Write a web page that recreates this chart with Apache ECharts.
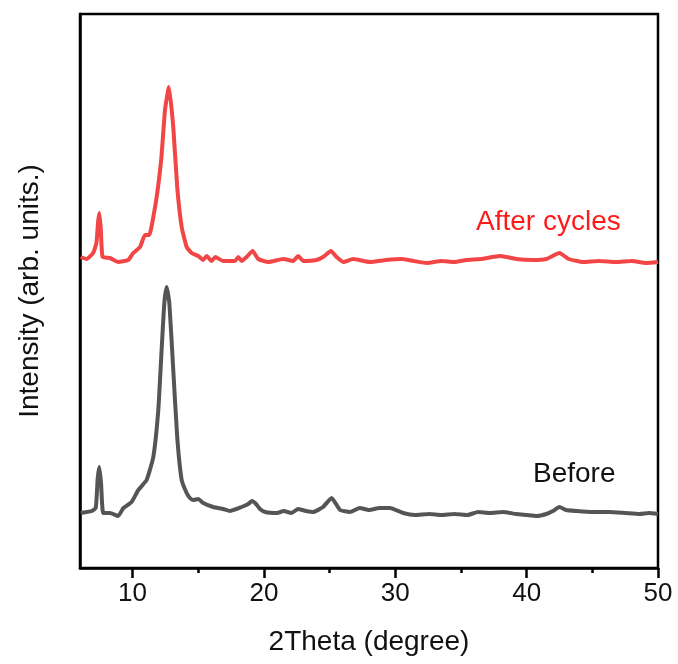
<!DOCTYPE html>
<html>
<head>
<meta charset="utf-8">
<script src="https://cdn.jsdelivr.net/npm/echarts@6/dist/echarts.min.js"></script>
<style>
html,body{margin:0;padding:0;background:#fff;}
#chart{width:678px;height:664px;}
</style>
</head>
<body>
<div id="chart"></div>
<script>
// 2Theta (degree) values and intensities (arb. units)
const beforeTheta = [6.05,6.5,6.9,7.2,7.35,7.47,7.6,7.77,8.28,8.9,9.3,9.93,10.44,11.07,11.58,11.96,12.2,12.42,12.6,12.8,13.1,13.4,13.74,14.12,14.37,14.62,15.0,15.38,16.14,16.9,17.4,18.3,18.8,19.1,19.4,19.7,20.1,21.0,21.5,22.1,22.6,23.2,23.75,24.5,25.15,25.8,26.55,27.3,28.0,28.8,29.6,30.6,31.5,32.6,33.5,34.5,35.5,36.3,37.2,38.2,39.2,40.0,40.75,41.5,42.0,42.5,43.0,43.8,45.0,46.3,47.5,48.6,49.3,50];
const beforeValues = [55,56,57,60,90,101,85,55,55,52,60,66,78,88,111,158,215,265,281,265,198,131,88,75,70,68,69,65,61,59,57,61,64,67,64,59,56,55,57,55,59,57,56,61,70,58,56,60,58,60,60,55,53,54,53,54,53,56,55,56,54,53,52,54,57,61,58,57,56,56,55,54,55,54];
const afterTheta = [6.05,6.5,7.0,7.25,7.37,7.47,7.58,7.72,8.28,8.9,9.67,10.05,10.57,10.95,11.27,11.58,11.88,12.2,12.47,12.77,13.1,13.4,13.74,14.12,14.5,15.0,15.38,15.64,16.02,16.3,16.9,17.8,18.05,18.3,18.68,19.14,19.57,20.33,21.47,22.23,22.61,23.0,24.0,24.5,25.1,25.53,26.04,26.8,28.07,29.3,30.5,31.4,32.4,33.5,34.5,35.4,36.5,38.0,39.2,40.5,41.5,42.5,43.2,44.3,45.5,46.8,48.0,49.1,50];
const afterValues = [311,309,315,325,345,355,340,311,310,306,308,315,321,333,333,351,375,411,458,481,441,381,341,321,315,312,308,312,307,311,307,307,311,307,311,317,309,306,309,307,312,307,308,311,317,311,306,309,306,308,309,307,305,307,306,308,309,312,309,308,309,315,309,306,307,306,307,305,306];
const majorTicks = [10,20,30,40,50];
const minorTicks = [15,25,35,45];
const seriesNames = ['Before','After cycles'];

function pairs(xs, ys){ return xs.map((x,i)=>[x, ys[i]]); }

const chart = echarts.init(document.getElementById('chart'));
const font = 'Liberation Sans, Arial, sans-serif';
chart.setOption({
  animation:false,
  backgroundColor:'#fff',
  grid:{left:80, right:20, top:14, bottom:96, show:true, borderColor:'#000', borderWidth:2.5, backgroundColor:'transparent'},
  xAxis:[{
    type:'value', min:6, max:50,
    name:'2Theta (degree)', nameLocation:'middle', nameGap:60,
    nameTextStyle:{fontSize:28, color:'#111', fontFamily:font},
    axisLine:{show:true, onZero:false, lineStyle:{color:'#000', width:2.5}},
    axisTick:{show:true, length:10, customValues:majorTicks, lineStyle:{color:'#000', width:2.5}},
    axisLabel:{show:true, customValues:majorTicks, margin:13, fontSize:26, color:'#111', fontFamily:font},
    splitLine:{show:false}
  },{
    type:'value', min:6, max:50, position:'bottom',
    axisLine:{show:false},
    axisTick:{show:true, length:5, customValues:minorTicks, lineStyle:{color:'#000', width:2.5}},
    axisLabel:{show:false},
    splitLine:{show:false}
  }],
  yAxis:{
    type:'value', min:0, max:554,
    name:'Intensity (arb. units.)', nameLocation:'middle', nameGap:36,
    nameTextStyle:{fontSize:28, color:'#111', fontFamily:font},
    axisLine:{show:true, onZero:false, lineStyle:{color:'#000', width:2.5}},
    axisTick:{show:false}, axisLabel:{show:false}, splitLine:{show:false}
  },
  series:[{
    name:seriesNames[0], type:'line', data:pairs(beforeTheta, beforeValues),
    symbol:'none', smooth:0.15, lineStyle:{color:'#555555', width:4}
  },{
    name:seriesNames[1], type:'line', data:pairs(afterTheta, afterValues),
    symbol:'none', smooth:0.15, lineStyle:{color:'#f24545', width:4}
  }],
  graphic:[
    {type:'text', left:476, top:208, style:{text:seriesNames[1], fill:'#ff1a1a', font:'28px Liberation Sans, Arial, sans-serif'}},
    {type:'text', left:533, top:460, style:{text:seriesNames[0], fill:'#111', font:'28px Liberation Sans, Arial, sans-serif'}}
  ]
});
</script>
</body>
</html>
